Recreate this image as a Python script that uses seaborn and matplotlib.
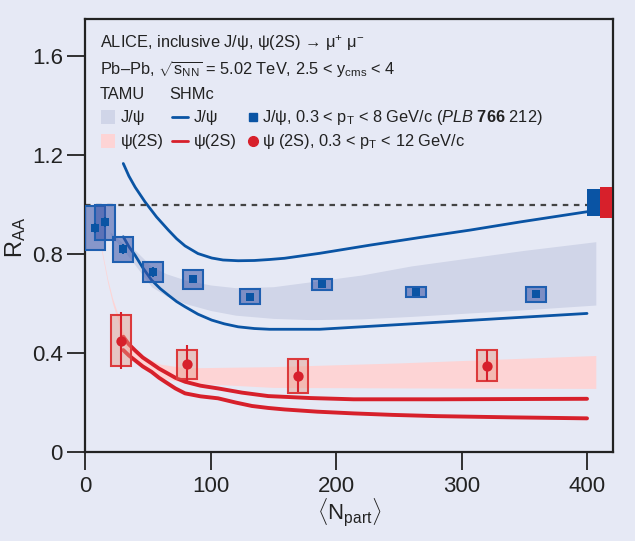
# ALICE J/psi and psi(2S) R_AA vs <N_part> in Pb-Pb at 5.02 TeV
#
import matplotlib
matplotlib.use('Agg')
import matplotlib.pyplot as plt
import matplotlib.colors as mcolors
import seaborn as sns

# --- data ---
# J/psi measurement (blue squares)
jpsi_npart = [8, 16, 30.5, 54.4, 86.3, 131.5, 188.6, 263.5, 359]
jpsi_raa = [0.905, 0.928, 0.819, 0.728, 0.698, 0.627, 0.677, 0.648, 0.637]
jpsi_stat = [0.02, 0.02, 0.02, 0.02, 0.015, 0.012, 0.01, 0.01, 0.012]
jpsi_sys = [0.088, 0.072, 0.05, 0.04, 0.038, 0.03, 0.021, 0.02, 0.031]

# psi(2S) measurement (red circles)
psi_npart = [28.7, 81.3, 170, 320.3]
psi_raa = [0.45, 0.354, 0.307, 0.349]
psi_stat = [0.115, 0.08, 0.066, 0.062]
psi_sys = [0.104, 0.058, 0.067, 0.064]

# TAMU bands
tamu_jpsi_npart = [20, 30, 40, 53, 65, 80, 100, 120, 150, 180, 220, 260, 300, 350, 407]
tamu_jpsi_hi = [0.89, 0.845, 0.815, 0.75, 0.72, 0.695, 0.675, 0.664, 0.668, 0.688, 0.715, 0.752, 0.78, 0.815, 0.85]
tamu_jpsi_lo = [0.88, 0.82, 0.755, 0.668, 0.63, 0.60, 0.572, 0.553, 0.54, 0.535, 0.538, 0.548, 0.56, 0.575, 0.594]

tamu_psi_npart = [13, 18, 22, 26, 30, 35, 45, 60, 80, 150, 250, 407]
tamu_psi_hi = [0.83, 0.70, 0.62, 0.56, 0.49, 0.44, 0.39, 0.355, 0.34, 0.345, 0.36, 0.39]
tamu_psi_lo = [0.815, 0.685, 0.60, 0.535, 0.45, 0.40, 0.34, 0.30, 0.28, 0.261, 0.259, 0.257]

# SHMc curves
shm_jpsi_hi_npart = [30.5, 35, 40, 47.8, 57, 66.4, 73, 79.7, 90, 101, 110, 122, 135, 147, 159,
                     187, 227, 267, 307, 347, 400]
shm_jpsi_hi = [1.166, 1.115, 1.07, 1.011, 0.95, 0.897, 0.862, 0.833, 0.802, 0.784, 0.776, 0.773,
               0.774, 0.778, 0.783, 0.803, 0.836, 0.867, 0.897, 0.93, 0.971]
shm_jpsi_lo_npart = [30.5, 35, 39.8, 46, 53, 60, 66.4, 73, 79.7, 90, 101, 111, 122, 135, 147,
                     187, 227, 267, 333, 400]
shm_jpsi_lo = [0.87, 0.83, 0.796, 0.745, 0.695, 0.66, 0.634, 0.608, 0.587, 0.557, 0.533, 0.518,
               0.506, 0.499, 0.496, 0.496, 0.508, 0.52, 0.54, 0.56]

shm_psi_hi_npart = [30.5, 35, 40, 46, 53, 59, 65, 72, 79.7, 92, 106, 125, 146, 180, 214, 280, 400]
shm_psi_hi = [0.466, 0.435, 0.41, 0.382, 0.358, 0.337, 0.32, 0.3, 0.284, 0.268, 0.257, 0.24,
              0.226, 0.218, 0.213, 0.213, 0.215]
shm_psi_lo_npart = [30.5, 35, 40, 46, 53, 59, 65, 72, 79.7, 92, 106, 120, 133, 146, 159, 185,
                    214, 245, 280, 340, 400]
shm_psi_lo = [0.412, 0.39, 0.37, 0.346, 0.324, 0.3, 0.28, 0.257, 0.237, 0.225, 0.217, 0.2, 0.186,
              0.178, 0.172, 0.163, 0.156, 0.15, 0.145, 0.14, 0.136]

# global uncertainties (boxes at R_AA = 1)
glob_npart = [405.3, 415.1]
glob_lo = [0.954, 0.944]
glob_hi = [1.061, 1.072]

# --- style ---
bg = '#e6e9f5'
blue = '#0a54a4'
red = '#d7202b'
dark = '#222222'

sns.set_theme(style='ticks', rc={'axes.facecolor': bg, 'figure.facecolor': bg,
                                 'savefig.facecolor': bg})
plt.rcParams['font.family'] = ['Liberation Sans', 'DejaVu Sans']
plt.rcParams['mathtext.fontset'] = 'custom'
plt.rcParams['mathtext.rm'] = 'Liberation Sans'
plt.rcParams['mathtext.it'] = 'Liberation Sans:italic'
plt.rcParams['mathtext.bf'] = 'Liberation Sans:bold'

fig = plt.figure(figsize=(6.35, 5.41), dpi=100)
ax = fig.add_axes([85 / 635, 1 - 452 / 541, 528 / 635, 433 / 541])

# TAMU bands
ax.fill_between(tamu_jpsi_npart, tamu_jpsi_lo, tamu_jpsi_hi, color='#d0d5e8', lw=0, zorder=1)
ax.fill_between(tamu_psi_npart, tamu_psi_lo, tamu_psi_hi, color='#fdd4d5', lw=0, zorder=1)

# SHMc curves
for xs, ys in [(shm_jpsi_hi_npart, shm_jpsi_hi), (shm_jpsi_lo_npart, shm_jpsi_lo)]:
    sns.lineplot(x=xs, y=ys, ax=ax, color=blue, lw=2, estimator=None, sort=False, zorder=2)
for xs, ys in [(shm_psi_hi_npart, shm_psi_hi), (shm_psi_lo_npart, shm_psi_lo)]:
    sns.lineplot(x=xs, y=ys, ax=ax, color=red, lw=2.8, estimator=None, sort=False, zorder=2)

# reference line at 1
ax.plot([0, 400], [1, 1], color='#444444', lw=1.6, dashes=(2.5, 2.5), zorder=2)

# systematic boxes
jb = [r - s for r, s in zip(jpsi_raa, jpsi_sys)]
ax.bar(jpsi_npart, [2 * s for s in jpsi_sys], bottom=jb, width=16,
       facecolor=mcolors.to_rgba('#3a55a8', 0.55), edgecolor='#1f5fb0', lw=1.5, zorder=3)
pb = [r - s for r, s in zip(psi_raa, psi_sys)]
ax.bar(psi_npart, [2 * s for s in psi_sys], bottom=pb, width=16,
       facecolor=mcolors.to_rgba('#e89a88', 0.45), edgecolor='#dc3a3c', lw=1.5, zorder=3)

# global uncertainty boxes
ax.bar(glob_npart, [h - l for h, l in zip(glob_hi, glob_lo)], bottom=glob_lo,
       width=[10.2, 9.6], color=[blue, red], lw=0, zorder=3, clip_on=False)

# stat errors and markers
ax.errorbar(jpsi_npart, jpsi_raa, yerr=jpsi_stat, fmt='none', ecolor=blue, elinewidth=1.5, zorder=4)
ax.errorbar(psi_npart, psi_raa, yerr=psi_stat, fmt='none', ecolor=red, elinewidth=1.5, zorder=4)
sns.scatterplot(x=jpsi_npart, y=jpsi_raa, ax=ax, marker='s', s=32, color=blue,
                edgecolor=blue, linewidth=0, zorder=5)
sns.scatterplot(x=psi_npart, y=psi_raa, ax=ax, marker='o', s=55, color=red,
                edgecolor=red, linewidth=0, zorder=5)

# axes
ax.set_xlim(0, 420.7)
ax.set_ylim(0, 1.75)
ax.set_xticks([0, 100, 200, 300, 400])
ax.set_yticks([0, 0.4, 0.8, 1.2, 1.6])
ax.set_yticklabels(['0', '0.4', '0.8', '1.2', '1.6'])
ax.set_xlabel('')
ax.set_ylabel('')
ax.tick_params(direction='out', length=13, width=1.3, color=dark, labelsize=16, labelcolor=dark)
ax.tick_params(axis='y', pad=3)
ax.tick_params(axis='x', pad=4)
for sp in ax.spines.values():
    sp.set_visible(True)
    sp.set_color(dark)
    sp.set_linewidth(1.6)

fig.text(16 / 635, 1 - 237 / 541, r'R$_{\mathregular{AA}}$', rotation=90,
         ha='center', va='center', fontsize=17, color=dark)
fig.text(349 / 635, 1 - 513 / 541, r'$\langle\mathregular{N_{part}}\rangle$',
         ha='center', va='center', fontsize=16, color=dark)

# legend block, drawn by hand
fs = 11.8
tk = dict(transform=ax.transAxes, fontsize=fs, color=dark, va='baseline')
ax.text(0.0284, 0.933, r'ALICE, inclusive J/ψ, ψ(2S) → μ$^{+}$ μ$^{-}$', **tk)
ax.text(0.0284, 0.8707, r'Pb–Pb, $\sqrt{\mathregular{s_{NN}}}$ = 5.02 TeV, 2.5 < y$_{\mathregular{cms}}$ < 4', **tk)
ax.text(0.0284, 0.8152, 'TAMU', **tk)
ax.text(0.159, 0.8152, 'SHMc', **tk)

ax.add_patch(plt.Rectangle((0.0294, 0.7575), 0.0274, 0.0323, transform=ax.transAxes,
                           facecolor='#d0d5e8', lw=0, zorder=6))
ax.add_patch(plt.Rectangle((0.0294, 0.7021), 0.0274, 0.0323, transform=ax.transAxes,
                           facecolor='#fdd4d5', lw=0, zorder=6))
ax.text(0.0682, 0.7621, 'J/ψ', **tk)
ax.text(0.0682, 0.7067, 'ψ(2S)', **tk)
ax.plot([0.1648, 0.195], [0.7737, 0.7737], transform=ax.transAxes, color=blue, lw=2)
ax.plot([0.1648, 0.195], [0.7182, 0.7182], transform=ax.transAxes, color=red, lw=2)
ax.text(0.2064, 0.7621, 'J/ψ', **tk)
ax.text(0.2064, 0.7067, 'ψ(2S)', **tk)
ax.plot([0.3191], [0.7737], 's', transform=ax.transAxes, ms=5.5, color=blue)
ax.plot([0.3191], [0.7182], 'o', transform=ax.transAxes, ms=7, color=red)
ax.text(0.3352, 0.7621, r'J/ψ, 0.3 < p$_{\mathregular{T}}$ < 8 GeV/c ($\mathit{PLB}$ $\mathbf{766}$ 212)', **tk)
ax.text(0.3352, 0.7067, r'ψ (2S), 0.3 < p$_{\mathregular{T}}$ < 12 GeV/c', **tk)

fig.savefig('out.png', dpi=100)
